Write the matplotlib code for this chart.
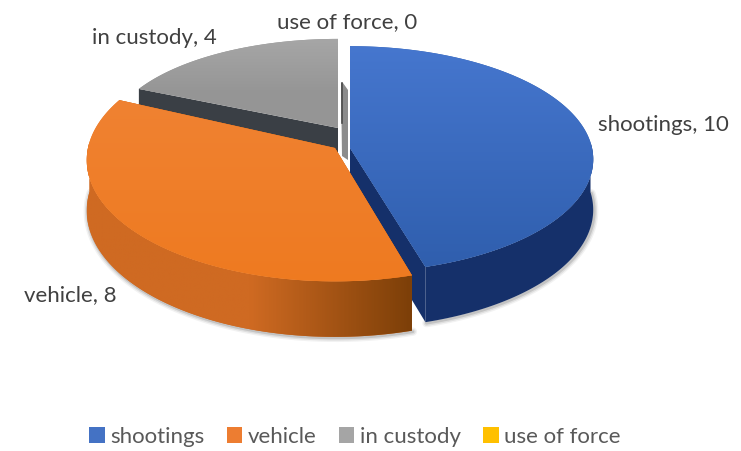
import numpy as np
import matplotlib
matplotlib.use("Agg")
import matplotlib.pyplot as plt
from matplotlib.patches import Polygon, Patch
from matplotlib.colors import LinearSegmentedColormap

plt.rcParams['font.family'] = ['Lato', 'DejaVu Sans']

categories = ["shootings", "vehicle", "in custody", "use of force"]
values = [10, 8, 4, 0]
top_colors = [("#4677cf", "#2f5ead"), ("#f08232", "#ee7a20"), ("#a8a8a8", "#959595"), ("#ffc000", "#ffc000")]
side_colors = [("#15306a", "#15306a"), ("#cf6a22", "#7c3f08"), ("#3a3f45", "#3a3f45"), ("#bf9000", "#bf9000")]
legend_colors = ["#4472c4", "#ed7d31", "#a5a5a5", "#ffc000"]

# apex x, apex y, radius x, radius y for each slice (pie is exploded)
slices = [(350, 148, 242, 112), (335, 148, 247, 120), (338, 128, 228, 98), (342, 130, 228, 98)]
DEPTH = 50
PERSPECTIVE = 0.1

label_pos = [(598, 125), (24, 295), (92, 38), (277, 22)]


def rim(ang, s):
    ax_, ay_, rx, ry = s
    front = np.sin(ang)
    scale = 1 / (1 - PERSPECTIVE * front)
    return ax_ + rx * np.cos(ang) * scale, ay_ + ry * front * scale, DEPTH * scale


def fill_gradient(ax, patch, c1, c2, box):
    cm = LinearSegmentedColormap.from_list("g", [c1, c2])
    im = ax.imshow(np.linspace(0, 1, 100).reshape(-1, 1), cmap=cm, extent=box, aspect='auto', zorder=patch.get_zorder())
    im.set_clip_path(patch)


fig = plt.figure(figsize=(7.41, 4.51), dpi=100)
ax = fig.add_axes([0, 0, 1, 1])

# angles run clockwise from 12 o'clock; screen y points down
fractions = np.array(values) / sum(values) * 2 * np.pi
ends = -np.pi / 2 + np.cumsum(fractions)
starts = ends - fractions


def draw_slice(i, z):
    s = slices[i]
    if values[i] == 0:
        return
    t = np.linspace(starts[i], ends[i], 200)
    x, y, d = rim(t, s)
    apex = (s[0], s[1])

    # cut faces
    for xe, ye, de in [(x[0], y[0], d[0]), (x[-1], y[-1], d[-1])]:
        ax.add_patch(Polygon([apex, (xe, ye), (xe, ye + de), (apex[0], apex[1] + DEPTH)],
                             color=side_colors[i][1] if i != 1 else "#a85510", lw=0, zorder=z))

    # outer wall, only the part facing us
    vis = np.sin(t) > -0.05
    if vis.any():
        xv, yv, dv = x[vis], y[vis], d[vis]
        wall = np.column_stack([np.r_[xv, xv[::-1]], np.r_[yv, (yv + dv)[::-1]]])
        # soft shadow under the wall
        for lw, a in [(6, 0.05), (4, 0.08), (2, 0.12)]:
            ax.plot(xv + 1, yv + dv + 1, color="k", lw=lw, alpha=a, zorder=z - 0.5, solid_capstyle='round')
        wp = Polygon(wall, color=side_colors[i][0], lw=0, zorder=z)
        ax.add_patch(wp)
        cm = LinearSegmentedColormap.from_list("w", [side_colors[i][0], side_colors[i][0], side_colors[i][1]])
        if side_colors[i][0] != side_colors[i][1]:
            im = ax.imshow(np.linspace(0, 1, 200).reshape(1, -1), cmap=cm, aspect='auto', zorder=z,
                           extent=(xv.min(), xv.max(), yv.max() + dv.max(), yv.min()))
            im.set_clip_path(wp)

    # top face
    top = Polygon(np.vstack([apex, np.column_stack([x, y])]), color=top_colors[i][1], lw=0, zorder=z + 0.1)
    ax.add_patch(top)
    fill_gradient(ax, top, top_colors[i][0], top_colors[i][1], (x.min() - 5, max(x.max(), apex[0]) + 5, y.max() + 5, y.min() - 5))


# gray cut face seen behind the blue slice
g = slices[2]
ax.add_patch(Polygon([(g[0] + 3, g[1] - 45), (g[0] + 5, g[1] - 45), (g[0] + 10, g[1] - 38), (g[0] + 10, g[1] + 32), (g[0] + 4, g[1] + 28)],
                     color="#8c8c8c", lw=0, zorder=1))
ax.plot([g[0] + 4, g[0] + 4], [g[1] - 45, g[1] - 5], color="#4a4a4a", lw=1.2, zorder=1.1)

draw_slice(2, 2)
draw_slice(0, 3)
draw_slice(1, 4)

ax.set_xlim(0, 741)
ax.set_ylim(451, 0)
ax.axis('off')

for i, (px, py) in enumerate(label_pos):
    ax.text(px, py, f"{categories[i]}, {values[i]}", fontsize=16, color="#404040", ha='left', va='center', zorder=6)

handles = [Patch(color=c, lw=0) for c in legend_colors]
ax.legend(handles, categories, ncol=4, loc='center', bbox_to_anchor=(355 / 741, 1 - 437 / 451), frameon=False,
          fontsize=16, labelcolor="#595959", handlelength=0.7, handleheight=0.7, handletextpad=0.25, columnspacing=1.0)

plt.savefig("out.png", dpi=100)
